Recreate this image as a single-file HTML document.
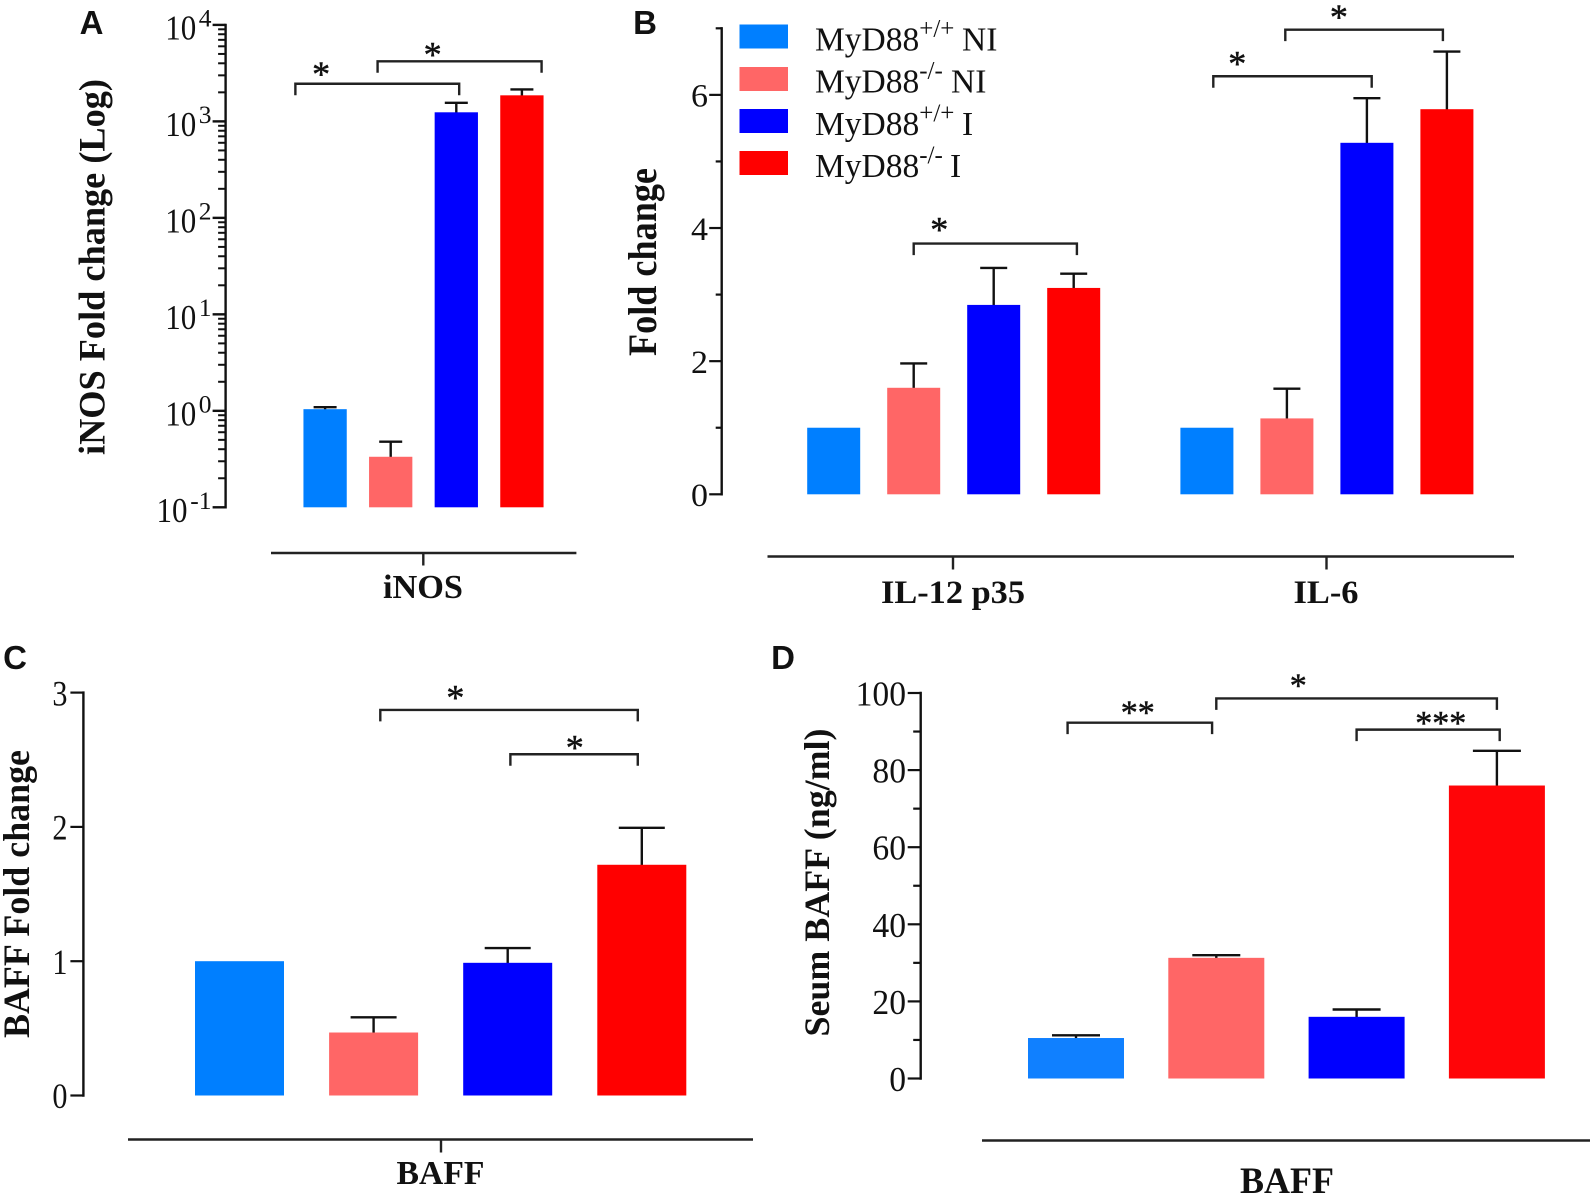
<!DOCTYPE html>
<html lang="en">
<head>
<meta charset="utf-8">
<title>MyD88 fold change charts</title>
<style>
html,body{margin:0;padding:0;background:#fff;}
svg{display:block;}
text{font-family:"Liberation Serif",serif;fill:#111;}
.panel-letter{font-family:"Liberation Sans",sans-serif;font-weight:700;font-size:33px;text-anchor:middle;}
.title{font-weight:700;text-anchor:middle;}
.cat{font-weight:700;text-anchor:middle;}
.legend{font-size:33.5px;}
.sup{font-size:25px;}
</style>
</head>
<body>
<svg id="figure" xmlns="http://www.w3.org/2000/svg" width="1594" height="1198" viewBox="0 0 1594 1198">
  <rect x="0" y="0" width="1594" height="1198" fill="#fff"/>

  <g id="panel-a">
    <text class="panel-letter" x="91.5" y="34">A</text>
    <text class="title" font-size="37" textLength="376" lengthAdjust="spacingAndGlyphs" transform="translate(104.5,267) rotate(-90)">iNOS Fold change (Log)</text>
    <line x1="271" y1="553" x2="576.4" y2="553" stroke="#222" stroke-width="2.4"/>
    <line x1="423.3" y1="553" x2="423.3" y2="565.5" stroke="#222" stroke-width="2.4"/>
    <text class="cat" x="423" y="598" font-size="34" textLength="80" lengthAdjust="spacingAndGlyphs">iNOS</text>
  </g>

  <g id="panel-b">
    <text class="panel-letter" x="645" y="34">B</text>
    <text class="title" font-size="40" textLength="188" lengthAdjust="spacingAndGlyphs" transform="translate(656,262) rotate(-90)">Fold change</text>
    <line x1="767.5" y1="556.5" x2="1514" y2="556.5" stroke="#222" stroke-width="2.4"/>
    <line x1="953" y1="556.5" x2="953" y2="569.5" stroke="#222" stroke-width="2.4"/>
    <line x1="1326.5" y1="556.5" x2="1326.5" y2="569.5" stroke="#222" stroke-width="2.4"/>
    <text class="cat" x="953" y="603" font-size="33" textLength="144" lengthAdjust="spacingAndGlyphs">IL-12 p35</text>
    <text class="cat" x="1326" y="603" font-size="33" textLength="65" lengthAdjust="spacingAndGlyphs">IL-6</text>

    <g>
      <rect x="739.5" y="24.5" width="48.5" height="24" fill="#007fff"/>
      <text class="legend" x="815" y="50.5">MyD88<tspan class="sup" dy="-14">+/+</tspan><tspan x="962" y="50.5">NI</tspan></text>
      <rect x="739.5" y="67" width="48.5" height="24" fill="#ff6666"/>
      <text class="legend" x="815" y="92.5">MyD88<tspan class="sup" dy="-14">-/-</tspan><tspan x="951" y="92.5">NI</tspan></text>
      <rect x="739.5" y="109" width="48.5" height="24" fill="#0000ff"/>
      <text class="legend" x="815" y="135">MyD88<tspan class="sup" dy="-14">+/+</tspan><tspan x="962" y="135">I</tspan></text>
      <rect x="739.5" y="151" width="48.5" height="24" fill="#ff0000"/>
      <text class="legend" x="815" y="177">MyD88<tspan class="sup" dy="-14">-/-</tspan><tspan x="950" y="177">I</tspan></text>
    </g>
  </g>

  <g id="panel-c">
    <text class="panel-letter" x="15" y="669">C</text>
    <text class="title" font-size="37" textLength="288" lengthAdjust="spacingAndGlyphs" transform="translate(29,894) rotate(-90)">BAFF Fold change</text>
    <line x1="128" y1="1139.5" x2="753" y2="1139.5" stroke="#222" stroke-width="2.4"/>
    <line x1="441" y1="1139.5" x2="441" y2="1152.5" stroke="#222" stroke-width="2.4"/>
    <text class="cat" x="440.5" y="1184" font-size="34" textLength="88" lengthAdjust="spacingAndGlyphs">BAFF</text>
  </g>

  <g id="panel-d">
    <text class="panel-letter" x="783" y="669">D</text>
    <text class="title" font-size="36" textLength="308" lengthAdjust="spacingAndGlyphs" transform="translate(829,882.5) rotate(-90)">Seum BAFF (ng/ml)</text>
    <line x1="982" y1="1140.5" x2="1590" y2="1140.5" stroke="#222" stroke-width="2.4"/>
    <text class="cat" x="1287" y="1193" font-size="37" textLength="94" lengthAdjust="spacingAndGlyphs">BAFF</text>
  </g>
</svg>

<script>
const seriesNames = ['wt-ni', 'ko-ni', 'wt-i', 'ko-i'];
const seriesColors = ['#007fff', '#ff6666', '#0000ff', '#ff0000'];
const dSeriesColors = ['#1080ff', '#ff6666', '#0000ff', '#ff0508'];

const aCategories = ['iNOS'];
const aValues = [1.04, 0.334, 1242, 1862];
const aErrors = [1.09, 0.479, 1558, 2145];
const aTickExponents = [-1, 0, 1, 2, 3, 4];
const aBracketFrom = [-0.453, 0.80];
const aBracketTo = [2.044, 3.30];
const aBracketLevel = [2455, 4197];
const aBracketLabels = ['*', '*'];
const aBracketLabelAt = [-0.06, 1.64];
const aBracketLabelLevel = [3491, 5571];

const bCategories = ['IL-12 p35', 'IL-6'];
const bIl12Values = [1, 1.6, 2.845, 3.1];
const bIl12Errors = [1, 1.966, 3.4, 3.314];
const bIl6Values = [1, 1.14, 5.28, 5.785];
const bIl6Errors = [1, 1.586, 5.95, 6.65];
const bTicks = [0, 2, 4, 6];
const bMinorTicks = [1, 3, 5, 7];
const bBracketGroup = [0, 1, 1];
const bBracketFrom = [1.0, 0.08, 0.98];
const bBracketTo = [3.04, 2.06, 2.95];
const bBracketLevel = [3.766, 6.28, 6.98];
const bBracketLabels = ['*', '*', '*'];
const bBracketLabelAt = [1.32, 0.38, 1.65];
const bBracketLabelLevel = [4.05, 6.547, 7.246];

const cCategories = ['BAFF'];
const cValues = [1, 0.469, 0.988, 1.718];
const cErrors = [1, 0.582, 1.098, 1.993];
const cTicks = [0, 1, 2, 3];
const cMinorTicks = [];
const cBracketFrom = [1.05, 2.02];
const cBracketTo = [2.97, 2.97];
const cBracketLevel = [2.871, 2.541];
const cBracketLabels = ['*', '*'];
const cBracketLabelAt = [1.61, 2.5];
const cBracketLabelLevel = [3.0, 2.629];

const dCategories = ['BAFF'];
const dValues = [10.5, 31.3, 16, 76];
const dErrors = [11.2, 32, 17.9, 85];
const dTicks = [0, 20, 40, 60, 80, 100];
const dMinorTicks = [10, 30, 50, 70, 90];
const dBracketFrom = [-0.06, 1.0, 2.0];
const dBracketTo = [0.97, 3.0, 3.02];
const dBracketLevel = [92.3, 98.6, 90.5];
const dBracketLabels = ['**', '*', '***'];
const dBracketLabelAt = [0.44, 1.584, 2.6];
const dBracketLabelLevel = [96.2, 103.2, 93.5];

const SVG_NS = 'http://www.w3.org/2000/svg';

function make(parent, tag, attrs, text) {
  const el = document.createElementNS(SVG_NS, tag);
  for (const k in attrs) el.setAttribute(k, attrs[k]);
  if (text !== undefined) el.textContent = text;
  parent.appendChild(el);
  return el;
}

function linearScale(y0, unit) {
  return function (v) { return y0 - v * unit; };
}

function logScale(y0, decade) {
  return function (v) { return y0 - (Math.log10(v) + 1) * decade; };
}

function bandScale(x0, step, groupStep) {
  return function (i, g) { return x0 + (g || 0) * groupStep + i * step; };
}

function drawBars(panel, key, values, errors, x, y, baseV, group, barW, capW, colors) {
  values.forEach(function (v, i) {
    const cx = x(i, group);
    const top = y(v);
    const base = y(baseV);
    const errTop = y(errors[i]);
    if (errors[i] > v) {
      const stem = make(panel, 'line', { x1: cx, x2: cx, y1: top + 1, y2: errTop, stroke: '#111', 'stroke-width': 2.4 });
      
      
      const cap = make(panel, 'line', { x1: cx - capW / 2, x2: cx + capW / 2, y1: errTop, y2: errTop, stroke: '#111', 'stroke-width': 2.4 });
      
      
    }
    const bar = make(panel, 'rect', { x: cx - barW / 2, y: top, width: barW, height: base - top, fill: colors[i] });
    
    
  });
}

function drawValueAxis(panel, key, axisX, y, ticks, minorTicks, opts) {
  const axis = make(panel, 'line', { x1: axisX, x2: axisX, y1: y(opts.top) - 1.2, y2: y(opts.bottom) + 1.2, stroke: '#111', 'stroke-width': 2.4 });
  
  
  ticks.forEach(function (t) {
    const py = y(t);
    const tick = make(panel, 'line', { x1: axisX - opts.major, x2: axisX, y1: py, y2: py, stroke: '#111', 'stroke-width': 2.2 });
    
    
    const s = String(t);
    const label = make(panel, 'text', {
      x: opts.labelX, y: py + opts.dy, 'font-size': opts.font, 'text-anchor': 'end',
      textLength: s.length * opts.font * 0.5 * opts.hscale, lengthAdjust: 'spacingAndGlyphs'
    }, s);
    
    
  });
  minorTicks.forEach(function (t) {
    const py = y(t);
    const tick = make(panel, 'line', { x1: axisX - opts.minor, x2: axisX, y1: py, y2: py, stroke: '#111', 'stroke-width': 2.2 });
    
    
  });
}

function drawLogAxis(panel, key, axisX, y, exponents) {
  const lowest = Math.pow(10, exponents[0]);
  const highest = Math.pow(10, exponents[exponents.length - 1]);
  const axis = make(panel, 'line', { x1: axisX, x2: axisX, y1: y(highest) - 1.2, y2: y(lowest) + 1.2, stroke: '#111', 'stroke-width': 2.4 });
  
  
  exponents.forEach(function (e, idx) {
    const base = Math.pow(10, e);
    const py = y(base);
    const tick = make(panel, 'line', { x1: axisX - 13, x2: axisX, y1: py, y2: py, stroke: '#111', 'stroke-width': 2.4 });
    
    
    const supWidth = String(e).length > 1 ? 21.5 : 12.75;
    const exponent = make(panel, 'text', { x: 211.5, y: py + 1.5, 'font-size': 25.5, 'text-anchor': 'end' }, String(e));
    
    
    const label = make(panel, 'text', {
      x: 211.5 - supWidth - 2.5, y: py + 14.5, 'font-size': 35, 'text-anchor': 'end',
      textLength: 31, lengthAdjust: 'spacingAndGlyphs'
    }, '10');
    
    
    if (idx < exponents.length - 1) {
      for (let m = 2; m <= 9; m++) {
        const my = y(base * m);
        const minor = make(panel, 'line', { x1: axisX - 7.5, x2: axisX, y1: my, y2: my, stroke: '#111', 'stroke-width': 2 });
        
        
      }
    }
  });
}

function drawBrackets(panel, key, x, y, from, to, level, labels, labelAt, labelLevel, groups, starFont) {
  from.forEach(function (f, i) {
    const g = groups ? groups[i] : 0;
    const x1 = x(f, g);
    const x2 = x(to[i], g);
    const py = y(level[i]);
    const d = 'M' + x1 + ' ' + (py + 11.5) + 'V' + py + 'H' + x2 + 'V' + (py + 11.5);
    const bracket = make(panel, 'path', { d: d, fill: 'none', stroke: '#222', 'stroke-width': 2.4 });
    
    
    const star = make(panel, 'text', {
      x: x(labelAt[i], g), y: y(labelLevel[i]) + starFont * 0.47,
      'font-size': starFont, 'text-anchor': 'middle',
      stroke: '#111', 'stroke-width': 0.5
    }, labels[i]);
    
    
  });
}

/* Panel A */
(function () {
  const panel = document.getElementById('panel-a');
  const y = logScale(507.3, 96.48);
  const x = bandScale(325.1, 65.6, 0);
  drawLogAxis(panel, 'panel-a', 225.6, y, aTickExponents);
  drawBars(panel, 'panel-a', aValues, aErrors, x, y, 0.1, 0, 43.3, 23, seriesColors);
  drawBrackets(panel, 'panel-a', x, y, aBracketFrom, aBracketTo, aBracketLevel, aBracketLabels, aBracketLabelAt, aBracketLabelLevel, null, 36);
})();

/* Panel B */
(function () {
  const panel = document.getElementById('panel-b');
  const y = linearScale(494.3, 66.57);
  const x = bandScale(833.7, 80, 373.2);
  drawValueAxis(panel, 'panel-b', 721.7, y, bTicks, bMinorTicks, { top: 7, bottom: 0, major: 12.5, minor: 6, labelX: 708, dy: 11.8, font: 33, hscale: 1.03 });
  drawBars(panel, 'panel-b', bIl12Values, bIl12Errors, x, y, 0, 0, 53, 27, seriesColors);
  drawBars(panel, 'panel-b', bIl6Values, bIl6Errors, x, y, 0, 1, 53, 27, seriesColors);
  drawBrackets(panel, 'panel-b', x, y, bBracketFrom, bBracketTo, bBracketLevel, bBracketLabels, bBracketLabelAt, bBracketLabelLevel, bBracketGroup, 36);
})();

/* Panel C */
(function () {
  const panel = document.getElementById('panel-c');
  const y = linearScale(1095.5, 134.3);
  const x = bandScale(239.5, 134.1, 0);
  drawValueAxis(panel, 'panel-c', 83.4, y, cTicks, cMinorTicks, { top: 3, bottom: 0, major: 13, minor: 6, labelX: 67.5, dy: 12.7, font: 35.5, hscale: 0.85 });
  drawBars(panel, 'panel-c', cValues, cErrors, x, y, 0, 0, 89, 46, seriesColors);
  drawBrackets(panel, 'panel-c', x, y, cBracketFrom, cBracketTo, cBracketLevel, cBracketLabels, cBracketLabelAt, cBracketLabelLevel, null, 36);
})();

/* Panel D */
(function () {
  const panel = document.getElementById('panel-d');
  const y = linearScale(1078.5, 3.855);
  const x = bandScale(1076, 140.3, 0);
  drawValueAxis(panel, 'panel-d', 920.7, y, dTicks, dMinorTicks, { top: 100, bottom: 0, major: 13, minor: 7.5, labelX: 906, dy: 12.5, font: 35, hscale: 0.96 });
  drawBars(panel, 'panel-d', dValues, dErrors, x, y, 0, 0, 96, 48, dSeriesColors);
  drawBrackets(panel, 'panel-d', x, y, dBracketFrom, dBracketTo, dBracketLevel, dBracketLabels, dBracketLabelAt, dBracketLabelLevel, null, 34);
})();
</script>
</body>
</html>
